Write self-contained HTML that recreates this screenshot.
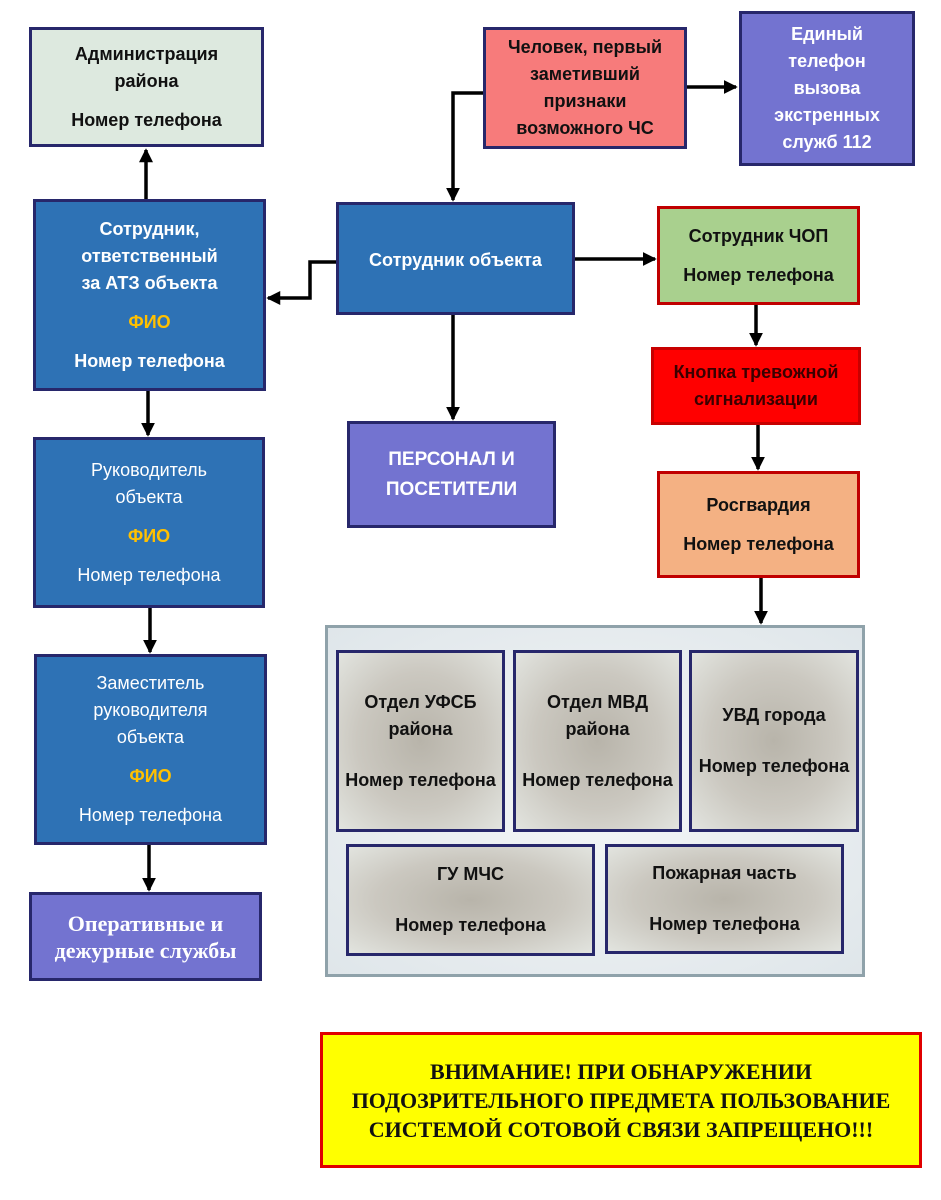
<!DOCTYPE html>
<html><head><meta charset="utf-8"><style>
body{margin:0;width:941px;height:1200px;background:#fff;position:relative;overflow:hidden;font-family:"Liberation Sans","DejaVu Sans",sans-serif}
.b{position:absolute;box-sizing:border-box;border:3px solid #27276b;display:flex;flex-direction:column;justify-content:center;align-items:center;text-align:center;font-weight:bold;font-size:18px;line-height:27px;white-space:nowrap}
.blue{background:#2e72b5;color:#fff}
.vio{background:#7373d0;color:#fff}
.red{border-color:#c00000}
.y{color:#ffc000}
.n{font-weight:normal}
.g{background:radial-gradient(ellipse at 50% 50%,#b8b4aa 0%,#cbc8c0 55%,#e2e4df 100%);color:#111}
.sp{height:12px}
</style></head><body>
<div class="b" style="left:29px;top:27px;width:235px;height:120px;background:#dde9df;color:#111">Администрация<br>района<div class="sp"></div>Номер телефона</div>
<div class="b" style="left:483px;top:27px;width:204px;height:122px;background:#f77b7b;color:#111">Человек, первый<br>заметивший<br>признаки<br>возможного ЧС</div>
<div class="b vio" style="left:739px;top:11px;width:176px;height:155px;line-height:27px">Единый<br>телефон<br>вызова<br>экстренных<br>служб 112</div>
<div class="b blue" style="left:33px;top:199px;width:233px;height:192px;line-height:27px">Сотрудник,<br>ответственный<br>за АТЗ объекта<div class="sp"></div><span class="y">ФИО</span><div class="sp"></div>Номер телефона</div>
<div class="b blue" style="left:336px;top:202px;width:239px;height:113px;justify-content:flex-start;padding-top:42px">Сотрудник объекта</div>
<div class="b red" style="left:657px;top:206px;width:203px;height:99px;background:#a9d08e;color:#111">Сотрудник ЧОП<div class="sp"></div>Номер телефона</div>
<div class="b red" style="left:651px;top:347px;width:210px;height:78px;background:#ff0000;color:#3a0000;border-color:#c80000">Кнопка тревожной<br>сигнализации</div>
<div class="b vio" style="left:347px;top:421px;width:209px;height:107px;font-size:19px;line-height:30px">ПЕРСОНАЛ И<br>ПОСЕТИТЕЛИ</div>
<div class="b red" style="left:657px;top:471px;width:203px;height:107px;background:#f4b183;color:#111">Росгвардия<div class="sp"></div>Номер телефона</div>
<div class="b blue n" style="left:33px;top:437px;width:232px;height:171px">Руководитель<br>объекта<div class="sp"></div><b class="y">ФИО</b><div class="sp"></div>Номер телефона</div>
<div class="b blue n" style="left:34px;top:654px;width:233px;height:191px">Заместитель<br>руководителя<br>объекта<div class="sp"></div><b class="y">ФИО</b><div class="sp"></div>Номер телефона</div>
<div class="b vio" style="left:29px;top:892px;width:233px;height:89px;font-family:'Liberation Serif',serif;font-size:22px;line-height:27px">Оперативные и<br>дежурные службы</div>
<div style="position:absolute;left:325px;top:625px;width:540px;height:352px;box-sizing:border-box;border:3px solid #8fa2aa;background:radial-gradient(ellipse,#f4f6f7,#dfe6ea)"></div>
<div class="b g" style="left:336px;top:650px;width:169px;height:182px">Отдел УФСБ<br>района<div class="sp" style="height:24px"></div>Номер телефона</div>
<div class="b g" style="left:513px;top:650px;width:169px;height:182px">Отдел МВД<br>района<div class="sp" style="height:24px"></div>Номер телефона</div>
<div class="b g" style="left:689px;top:650px;width:170px;height:182px">УВД города<div class="sp" style="height:24px"></div>Номер телефона</div>
<div class="b g" style="left:346px;top:844px;width:249px;height:112px">ГУ МЧС<div class="sp" style="height:24px"></div>Номер телефона</div>
<div class="b g" style="left:605px;top:844px;width:239px;height:110px">Пожарная часть<div class="sp" style="height:24px"></div>Номер телефона</div>
<div class="b" style="left:320px;top:1032px;width:602px;height:136px;background:#ffff00;border-color:#e00000;color:#111;font-family:'Liberation Serif',serif;font-size:22px;line-height:29px">ВНИМАНИЕ! ПРИ ОБНАРУЖЕНИИ<br>ПОДОЗРИТЕЛЬНОГО ПРЕДМЕТА ПОЛЬЗОВАНИЕ<br>СИСТЕМОЙ СОТОВОЙ СВЯЗИ ЗАПРЕЩЕНО!!!</div>
<svg width="941" height="1200" style="position:absolute;left:0;top:0" fill="none" stroke="#000" stroke-width="3.5">
<defs><marker id="a" markerWidth="4" markerHeight="4" refX="3.5" refY="2" orient="auto" markerUnits="strokeWidth"><path d="M0,0 L4,2 L0,4 z" fill="#000" stroke="none"/></marker></defs>
<path d="M146,199 V150" marker-end="url(#a)"/>
<path d="M483,93 H453 V200" marker-end="url(#a)"/>
<path d="M687,87 H736" marker-end="url(#a)"/>
<path d="M575,259 H655" marker-end="url(#a)"/>
<path d="M336,262 H310 V298 H268" marker-end="url(#a)"/>
<path d="M453,315 V419" marker-end="url(#a)"/>
<path d="M756,305 V345" marker-end="url(#a)"/>
<path d="M758,425 V469" marker-end="url(#a)"/>
<path d="M761,578 V623" marker-end="url(#a)"/>
<path d="M148,391 V435" marker-end="url(#a)"/>
<path d="M150,608 V652" marker-end="url(#a)"/>
<path d="M149,845 V890" marker-end="url(#a)"/>
</svg>
</body></html>
